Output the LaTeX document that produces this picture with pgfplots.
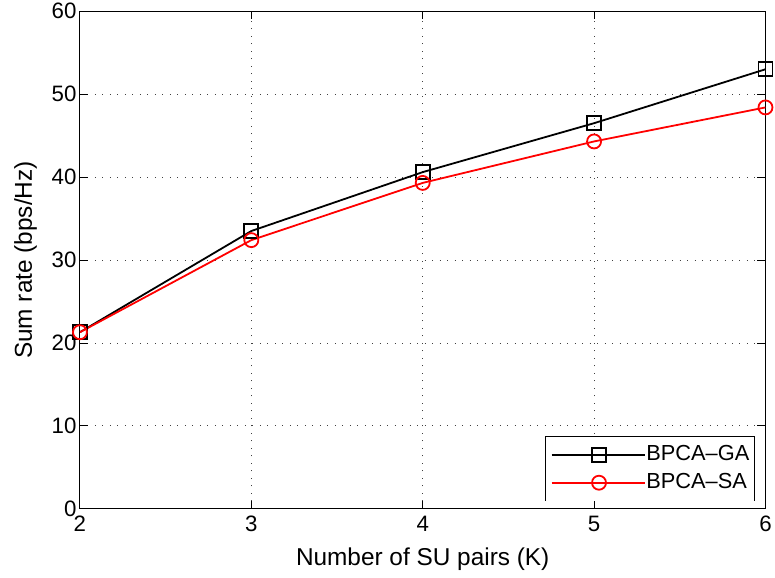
\documentclass[border=0pt]{standalone}
\usepackage{pgfplots}
\pgfplotsset{compat=1.18}
\usepackage{fontspec}
\setmainfont{Liberation Sans}
\newcommand{\tickf}{\fontsize{22.3}{25}\selectfont}
\newcommand{\legf}{\fontsize{21.8}{25}\selectfont}
\newcommand{\labf}{\fontsize{24.4}{28}\selectfont}
\begin{document}
\begin{tikzpicture}[x=1pt,y=1pt]
\begin{axis}[
  scale only axis,
  width=686pt, height=498pt,
  at={(0,0)}, anchor=south west,
  xmin=2, xmax=6, ymin=0, ymax=60,
  xtick={2,3,4,5,6}, ytick={0,10,...,60},
  grid=major,
  grid style={black!75, line width=0.9pt, dash pattern=on 1pt off 6.5pt},
  axis line style={line width=0.9pt},
  tick style={black, line width=0.9pt},
  major tick length=8pt,
  tick align=inside,
  xtick pos=both, ytick pos=both,
  /pgf/number format/assume math mode=true,
  ticklabel style={font=\tickf},
  xticklabel style={yshift=-4pt},
  xlabel={Number of SU pairs (K)},
  ylabel={Sum rate (bps/Hz)},
  xlabel style={font=\labf, at={(axis description cs:0.5,0)}, anchor=base, yshift=-57pt},
  ylabel style={font=\labf, at={(axis description cs:0,0.5)}, anchor=base, yshift=48pt},
  legend style={at={(0.984,0.016)}, anchor=south east, draw=none,
    font=\legf, row sep=7pt, column sep=0pt, inner xsep=5pt, inner ysep=7.5pt,
    nodes={inner sep=0pt, text height=16pt, text depth=5pt},
    append after command={\pgfextra{\draw[black, line width=0.9pt] (\tikzlastnode.south west) rectangle (\tikzlastnode.north east);}}},
  legend cell align=left,
  legend image code/.code={\path (0pt,0pt) -- (94pt,0pt);
    \draw[#1, line width=1.8pt, mark=none] (10pt,0pt) -- (85pt,0pt);
    \draw[#1, line width=1.8pt, mark options={line width=1.8pt, solid}] plot coordinates {(47.5pt,0pt)};},
]
\addplot[black, line width=1.8pt, mark=square, mark size=7pt, mark options={line width=1.8pt, solid}]
  coordinates {(2,21.3) (3,33.5) (4,40.6) (5,46.5) (6,53.0)};
\addlegendentry{BPCA--GA}
\addplot[red, line width=1.8pt, mark=o, mark size=7pt, mark options={line width=1.8pt, solid}]
  coordinates {(2,21.3) (3,32.4) (4,39.3) (5,44.3) (6,48.4)};
\addlegendentry{BPCA--SA}
\end{axis}
\useasboundingbox (-80,-69) rectangle (695,508);
\end{tikzpicture}
\end{document}
